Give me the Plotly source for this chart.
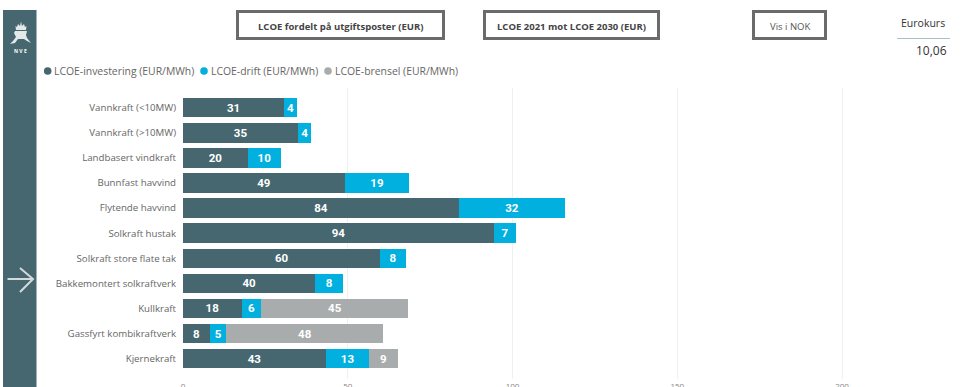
import plotly.graph_objects as go

categories = ["Vannkraft (<10MW)", "Vannkraft (>10MW)", "Landbasert vindkraft", "Bunnfast havvind",
              "Flytende havvind", "Solkraft hustak", "Solkraft store flate tak", "Bakkemontert solkraftverk",
              "Kullkraft", "Gassfyrt kombikraftverk", "Kjernekraft"]
investering = [30.65, 35.0, 19.7, 49.2, 83.8, 94.4, 59.9, 40.2, 17.8, 8.2, 43.4]
drift = [3.95, 3.95, 10.0, 19.4, 32.1, 6.6, 7.7, 8.4, 6.0, 5.0, 13.1]
brensel = [None, None, None, None, None, None, None, None, 44.6, 47.6, 8.7]
x_ticks = [0, 50, 100, 150, 200]
legend_labels = ["LCOE-investering (EUR/MWh)", "LCOE-drift (EUR/MWh)", "LCOE-brensel (EUR/MWh)"]
buttons = ["LCOE fordelt på utgiftsposter (EUR)", "LCOE 2021 mot LCOE 2030 (EUR)", "Vis i NOK"]
rate_title = "Eurokurs"
rate_value = "10,06"

DARK, CYAN, GREY = "#46676f", "#01b0de", "#a9acad"
W, H = 962, 387
L, R, T, B = 183, 17, 88, 8
PW, PH = W - L - R, H - T - B
LABEL_FONT = "Roboto"
UI_FONT = "Open Sans"


def px(x):
    return (x - L) / PW


def py(y):
    return (T + PH - y) / PH


def path(points, close=False):
    d = "M " + " L ".join(f"{px(a):.5f},{py(b):.5f}" for a, b in points)
    return d + (" Z" if close else "")


fig = go.Figure()
for name, vals, col in zip(legend_labels, [investering, drift, brensel], [DARK, CYAN, GREY]):
    fig.add_trace(go.Bar(
        y=categories, x=vals, name=name, orientation="h", marker=dict(color=col, line=dict(width=0)),
        texttemplate="%{x:.0f}", textposition="inside", insidetextanchor="middle", textangle=0,
        constraintext="none", textfont=dict(family=LABEL_FONT, size=11.5, color="white", weight="bold"),
        showlegend=False, hoverinfo="x+y"))

shapes = []
annotations = []


def rect(x0, y0, x1, y1, fill=None, line=None, lw=0):
    shapes.append(dict(type="rect", xref="paper", yref="paper", x0=px(x0), x1=px(x1), y0=py(y1), y1=py(y0),
                       fillcolor=fill or "rgba(0,0,0,0)", line=dict(color=line or "rgba(0,0,0,0)", width=lw),
                       layer="below"))


def text(x, y, s, size, color, anchor="left", weight="normal", family=UI_FONT):
    annotations.append(dict(xref="paper", yref="paper", x=px(x), y=py(y), text=s, showarrow=False,
                            xanchor=anchor, yanchor="middle", borderpad=0,
                            font=dict(family=family, size=size, color=color, weight=weight)))


# sidebar
rect(3, 10, 36.5, 390, fill=DARK)
# arrow
for pts in ([(7.5, 279), (33, 279)], [(20, 268), (33, 279), (20, 292)]):
    shapes.append(dict(type="path", xref="paper", yref="paper", path=path(pts), line=dict(color="#d3dadc", width=2)))
# logo: crown and lion
crown = [(16, 30), (15.5, 26), (17, 27), (18, 24), (20, 26), (21, 21.5), (22, 26), (24, 24), (25, 27), (26.5, 26), (26, 30)]
lion = [(15, 31), (27, 31), (26, 35), (27, 38), (31, 43), (27, 41), (24, 39), (18, 39), (15, 43), (10, 44), (13, 41),
        (16, 37), (14, 33)]
for pts in (crown, lion):
    shapes.append(dict(type="path", xref="paper", yref="paper", path=path(pts, True), fillcolor="white",
                       line=dict(width=0), opacity=0.85))
text(20.5, 50.5, "N V E", 5, "white", "center", "bold")

# buttons
for (x0, x1), label, weight in zip([(237.5, 443.5), (484.5, 658.5), (753.5, 825.5)], buttons, ["bold", "bold", "normal"]):
    rect(x0, 11.5, x1, 38.5, fill="white", line="#6b6b6b", lw=3)
    text((x0 + x1) / 2, 26, label, 9.5, "#444444" if weight == "bold" else "#555555", "center", weight)

# rate card
text(946, 23, rate_title, 10.5, "#333333", "right")
shapes.append(dict(type="line", xref="paper", yref="paper", x0=px(897), x1=px(950), y0=py(38.5), y1=py(38.5),
                   line=dict(color="#a9c0c4", width=1)))
text(948, 50, rate_value, 12, "#333333", "right")

# legend
for cx, tx, label, col in zip([47.7, 204, 328], [52.5, 210, 334], legend_labels, [DARK, CYAN, GREY]):
    shapes.append(dict(type="circle", xref="paper", yref="paper", x0=px(cx - 3.8), x1=px(cx + 3.8),
                       y0=py(71 + 3.8), y1=py(71 - 3.8), fillcolor=col, line=dict(width=0)))
    text(tx, 71, label, 10.4, "#666666")

fig.update_layout(
    width=W, height=H, margin=dict(l=L, r=R, t=T, b=B, pad=0), autosize=False,
    barmode="stack", bargap=0.22, paper_bgcolor="white", plot_bgcolor="white",
    shapes=shapes, annotations=annotations,
    xaxis=dict(range=[0, PW / 3.295], tickmode="array", tickvals=x_ticks, showgrid=True, gridcolor="#f0f0f0",
               gridwidth=1, zeroline=False, showline=False, ticks="", ticklabelstandoff=1,
               tickfont=dict(family=UI_FONT, size=8, color="#888888"), automargin=False),
    yaxis=dict(type="category", categoryorder="array", categoryarray=categories, range=[10.81, -0.785],
               showgrid=False, zeroline=False, showline=False, ticks="outside", ticklen=4,
               tickcolor="rgba(0,0,0,0)", tickfont=dict(family=UI_FONT, size=9.7, color="#666666"), automargin=False),
)
fig.write_html("out.html", config=dict(displayModeBar=False),
               post_script="document.body.style.margin='0';document.body.style.overflow='hidden';")
